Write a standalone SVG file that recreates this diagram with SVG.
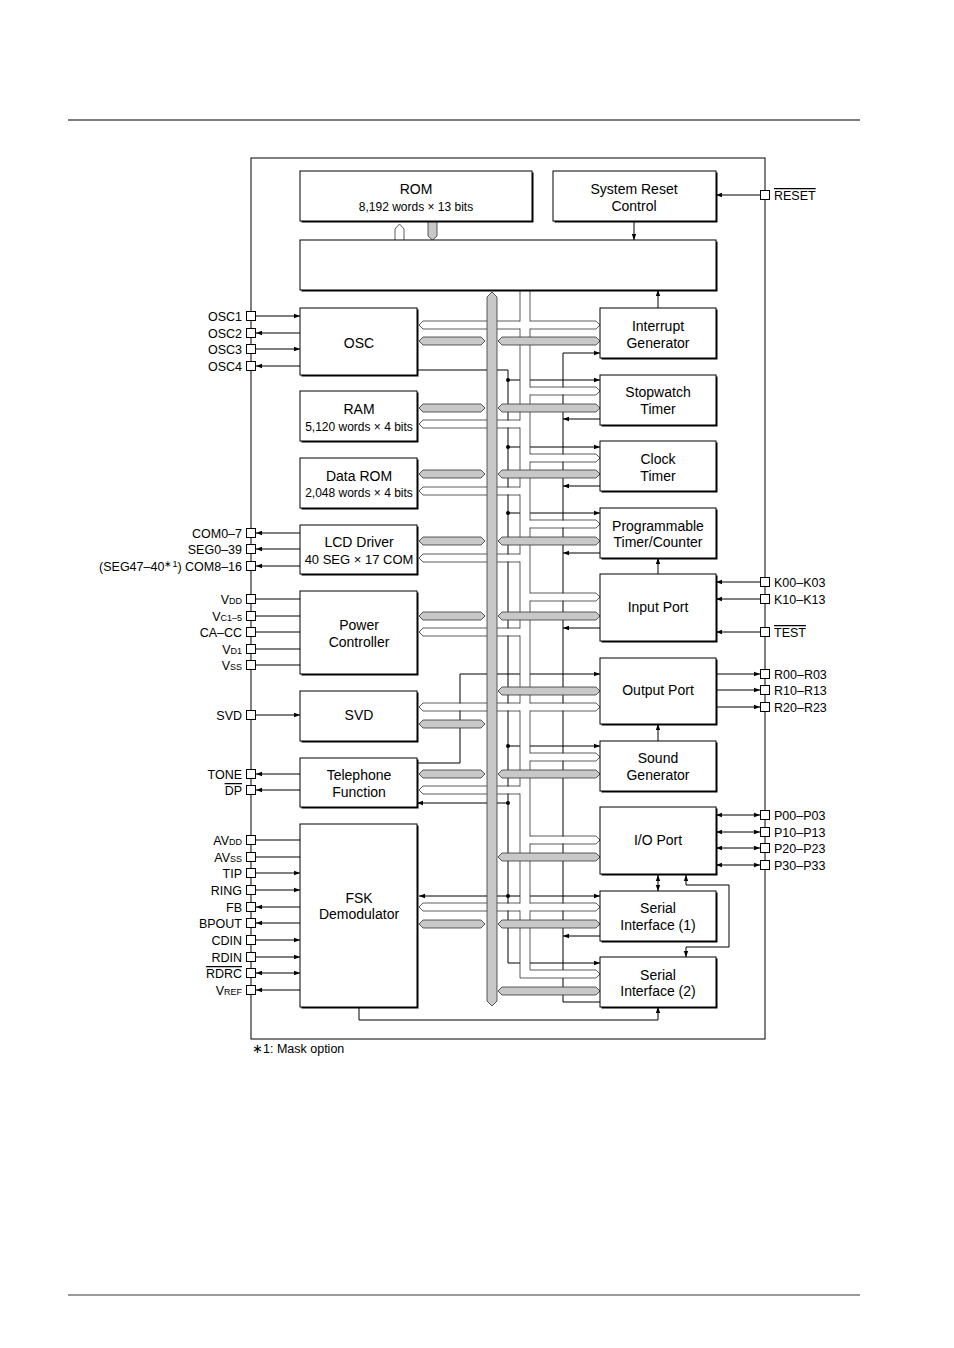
<svg xmlns="http://www.w3.org/2000/svg" width="954" height="1348" viewBox="0 0 954 1348">
<defs>
<style>
text{font-family:"Liberation Sans",Arial,sans-serif;fill:#000}
.b{font-size:14px;text-anchor:middle}
.s{font-size:12px;text-anchor:middle}
.pl{font-size:12.5px;text-anchor:end}
.pr{font-size:12.5px}
.ln{stroke:#000;stroke-width:1;fill:none}
.box{fill:#fff;stroke:#000;stroke-width:1}
.sh{fill:#000}
.pin{fill:#fff;stroke:#000;stroke-width:1}
.g{fill:#c8c8c8;stroke:#333;stroke-width:0.8}
.w{fill:none;stroke:#333;stroke-width:0.8}
.wf{fill:#fff}
.sub{font-size:9px}
</style>
<marker id="a" viewBox="0 0 6 6" refX="6" refY="3" markerWidth="6" markerHeight="6" markerUnits="userSpaceOnUse" orient="auto"><path d="M0,0.8 L6,3 L0,5.2z"/></marker>
<marker id="as" viewBox="0 0 6 6" refX="0" refY="3" markerWidth="6" markerHeight="6" markerUnits="userSpaceOnUse" orient="auto"><path d="M6,0.8 L0,3 L6,5.2z"/></marker>
</defs>
<rect width="954" height="1348" fill="#fff"/>
<line x1="68" y1="120" x2="860" y2="120" stroke="#000" stroke-width="1.2"/>
<line x1="68" y1="1295" x2="860" y2="1295" stroke="#000" stroke-width="0.8"/>
<rect x="251" y="158" width="514" height="881" class="ln"/>

<g id="connectors">
<!-- pin lines left -->
<path class="ln" marker-end="url(#a)" d="M256,316H300"/>
<path class="ln" marker-end="url(#a)" d="M300,333H256"/>
<path class="ln" marker-end="url(#a)" d="M256,349H300"/>
<path class="ln" marker-end="url(#a)" d="M300,366H256"/>
<path class="ln" marker-end="url(#a)" d="M300,533H256"/>
<path class="ln" marker-end="url(#a)" d="M300,549H256"/>
<path class="ln" marker-end="url(#a)" d="M300,566H256"/>
<path class="ln" d="M256,599H300M256,616H300M256,632H300M256,649H300M256,665H300"/>
<path class="ln" marker-end="url(#a)" d="M256,715H300"/>
<path class="ln" marker-end="url(#a)" d="M300,774H256"/>
<path class="ln" marker-end="url(#a)" d="M300,790H256"/>
<path class="ln" d="M256,840H300M256,857H300"/>
<path class="ln" marker-end="url(#a)" d="M256,873H300"/>
<path class="ln" marker-end="url(#a)" d="M256,890H300"/>
<path class="ln" marker-end="url(#a)" d="M300,907H256"/>
<path class="ln" marker-end="url(#a)" d="M300,923H256"/>
<path class="ln" marker-end="url(#a)" d="M256,940H300"/>
<path class="ln" marker-end="url(#a)" d="M256,957H300"/>
<path class="ln" marker-start="url(#as)" marker-end="url(#a)" d="M256,973H300"/>
<path class="ln" marker-end="url(#a)" d="M300,990H256"/>
<!-- pin lines right -->
<path class="ln" marker-end="url(#a)" d="M760,195H716"/>
<path class="ln" marker-end="url(#a)" d="M760,582H716"/>
<path class="ln" marker-end="url(#a)" d="M760,599H716"/>
<path class="ln" marker-end="url(#a)" d="M760,632H716"/>
<path class="ln" marker-end="url(#a)" d="M716,674H760"/>
<path class="ln" marker-end="url(#a)" d="M716,690H760"/>
<path class="ln" marker-end="url(#a)" d="M716,707H760"/>
<path class="ln" marker-start="url(#as)" marker-end="url(#a)" d="M716,815H760"/>
<path class="ln" marker-start="url(#as)" marker-end="url(#a)" d="M716,832H760"/>
<path class="ln" marker-start="url(#as)" marker-end="url(#a)" d="M716,848H760"/>
<path class="ln" marker-start="url(#as)" marker-end="url(#a)" d="M716,865H760"/>
<!-- inter-block -->
<path class="ln" marker-end="url(#a)" d="M634,221V240"/>
<path class="ln" marker-end="url(#a)" d="M658,308V290"/>
<path class="ln" marker-end="url(#a)" d="M658,574V558"/>
<path class="ln" marker-end="url(#a)" d="M658,741V724"/>
<path class="ln" marker-start="url(#as)" marker-end="url(#a)" d="M658,875V891"/>
<path class="ln" marker-start="url(#as)" marker-end="url(#a)" d="M686,875V885H729V947H686V957"/>
<path class="ln" marker-end="url(#a)" d="M359,1007V1020H658V1007"/>
<path class="ln" marker-end="url(#a)" d="M417,763H460V674H600"/>
<!-- clock line 508 -->
<path class="ln" d="M417,370H508V963"/>
<path class="ln" marker-end="url(#a)" d="M508,963H600"/>
<path class="ln" marker-end="url(#a)" d="M508,380H600"/>
<path class="ln" marker-end="url(#a)" d="M508,447H600"/>
<path class="ln" marker-end="url(#a)" d="M508,513H600"/>
<path class="ln" marker-end="url(#a)" d="M508,746H600"/>
<path class="ln" marker-end="url(#a)" d="M508,803H417"/>
<path class="ln" marker-start="url(#as)" marker-end="url(#a)" d="M419,896H600"/>
<g fill="#000"><circle cx="508" cy="380" r="2"/><circle cx="508" cy="447" r="2"/><circle cx="508" cy="513" r="2"/><circle cx="508" cy="746" r="2"/><circle cx="508" cy="803" r="2"/><circle cx="508" cy="896" r="2"/></g>
<!-- interrupt line 563 -->
<path class="ln" d="M563,1002V353M563,1002H600"/>
<path class="ln" marker-end="url(#a)" d="M563,353H600"/>
<path class="ln" marker-end="url(#a)" d="M600,419H563"/>
<path class="ln" marker-end="url(#a)" d="M600,486H563"/>
<path class="ln" marker-end="url(#a)" d="M600,553H563"/>
<path class="ln" marker-end="url(#a)" d="M600,628H563"/>
<path class="ln" marker-end="url(#a)" d="M600,936H563"/>
<!-- hollow bus -->
<path fill="#fff" d="M520,291H530V970H598V978H520Z"/>
<path class="w" d="M520,291V978H596L600,974L596,970H530V291"/>
<!-- right white arrows -->
<g>
<rect class="wf" x="529" y="321.5" width="68" height="7"/><path class="w" d="M530,321H596L600,325L596,329H530"/>
<rect class="wf" x="529" y="387.5" width="68" height="7"/><path class="w" d="M530,387H596L600,391L596,395H530"/>
<rect class="wf" x="529" y="454.5" width="68" height="7"/><path class="w" d="M530,454H596L600,458L596,462H530"/>
<rect class="wf" x="529" y="520.5" width="68" height="7"/><path class="w" d="M530,520H596L600,524L596,528H530"/>
<rect class="wf" x="529" y="593.5" width="68" height="7"/><path class="w" d="M530,593H596L600,597L596,601H530"/>
<rect class="wf" x="529" y="703.5" width="68" height="7"/><path class="w" d="M530,703H596L600,707L596,711H530"/>
<rect class="wf" x="529" y="753.5" width="68" height="7"/><path class="w" d="M530,753H596L600,757L596,761H530"/>
<rect class="wf" x="529" y="836.5" width="68" height="7"/><path class="w" d="M530,836H596L600,840L596,844H530"/>
<rect class="wf" x="529" y="903.5" width="68" height="7"/><path class="w" d="M530,903H596L600,907L596,911H530"/>
</g>
<!-- left white arrows -->
<g>
<rect class="wf" x="421" y="321.5" width="100" height="7"/><path class="w" d="M520,321H423L419,325L423,329H520"/>
<rect class="wf" x="421" y="420.5" width="100" height="7"/><path class="w" d="M520,420H423L419,424L423,428H520"/>
<rect class="wf" x="421" y="487.5" width="100" height="7"/><path class="w" d="M520,487H423L419,491L423,495H520"/>
<rect class="wf" x="421" y="554.5" width="100" height="7"/><path class="w" d="M520,554H423L419,558L423,562H520"/>
<rect class="wf" x="421" y="628.5" width="100" height="7"/><path class="w" d="M520,628H423L419,632L423,636H520"/>
<rect class="wf" x="421" y="703.5" width="100" height="7"/><path class="w" d="M520,703H423L419,707L423,711H520"/>
<rect class="wf" x="421" y="786.5" width="100" height="7"/><path class="w" d="M520,786H423L419,790L423,794H520"/>
<rect class="wf" x="421" y="903.5" width="100" height="7"/><path class="w" d="M520,903H423L419,907L423,911H520"/>
</g>
<!-- gray main bus -->
<path class="g" d="M487,297L492,292L497,297V1001L492,1006L487,1001Z"/>
<!-- gray arrows left -->
<g class="g">
<path d="M419,341L423,337H481L485,341L481,345H423Z"/>
<path d="M419,408L423,404H481L485,408L481,412H423Z"/>
<path d="M419,474L423,470H481L485,474L481,478H423Z"/>
<path d="M419,541L423,537H481L485,541L481,545H423Z"/>
<path d="M419,616L423,612H481L485,616L481,620H423Z"/>
<path d="M419,724L423,720H481L485,724L481,728H423Z"/>
<path d="M419,774L423,770H481L485,774L481,778H423Z"/>
<path d="M419,924L423,920H481L485,924L481,928H423Z"/>
</g>
<!-- gray arrows right -->
<g class="g">
<path d="M498,341L502,337H596L600,341L596,345H502Z"/>
<path d="M498,408L502,404H596L600,408L596,412H502Z"/>
<path d="M498,474L502,470H596L600,474L596,478H502Z"/>
<path d="M498,541L502,537H596L600,541L596,545H502Z"/>
<path d="M498,616L502,612H596L600,616L596,620H502Z"/>
<path d="M498,691L502,687H596L600,691L596,695H502Z"/>
<path d="M498,774L502,770H596L600,774L596,778H502Z"/>
<path d="M498,857L502,853H596L600,857L596,861H502Z"/>
<path d="M498,924L502,920H596L600,924L596,928H502Z"/>
<path d="M498,991L502,987H596L600,991L596,995H502Z"/>
</g>
<!-- ROM/core buses -->
<path fill="#fff" stroke="#333" stroke-width="0.8" d="M395,240V229L399.5,224L404,229V240"/>
<path class="g" d="M428,221V236L432.5,240L437,236V221"/>
</g>

<!-- blocks -->
<g id="rom"><rect class="sh" x="301.5" y="172.5" width="232" height="50"/><rect class="box" x="300" y="171" width="232" height="50"/><text class="b" x="416" y="194">ROM</text><text class="s" x="416" y="211">8,192 words × 13 bits</text></g>
<g id="reset"><rect class="sh" x="554.5" y="172.5" width="163" height="50"/><rect class="box" x="553" y="171" width="163" height="50"/><text class="b" x="634" y="194">System Reset</text><text class="b" x="634" y="211">Control</text></g>
<g id="core"><rect class="sh" x="301.5" y="241.5" width="416" height="50"/><rect class="box" x="300" y="240" width="416" height="50"/></g>
<g id="osc"><rect class="sh" x="301.5" y="309.5" width="117" height="67"/><rect class="box" x="300" y="308" width="117" height="67"/><text class="b" x="359" y="348">OSC</text></g>
<g id="ram"><rect class="sh" x="301.5" y="392.5" width="117" height="50"/><rect class="box" x="300" y="391" width="117" height="50"/><text class="b" x="359" y="414">RAM</text><text class="s" x="359" y="431">5,120 words × 4 bits</text></g>
<g id="dataro"><rect class="sh" x="301.5" y="459.5" width="117" height="50"/><rect class="box" x="300" y="458" width="117" height="50"/><text class="b" x="359" y="481">Data ROM</text><text class="s" x="359" y="497">2,048 words × 4 bits</text></g>
<g id="lcd"><rect class="sh" x="301.5" y="526.5" width="117" height="49"/><rect class="box" x="300" y="525" width="117" height="49"/><text class="b" x="359" y="547">LCD Driver</text><text class="s" x="359" y="564" style="font-size:13px">40 SEG × 17 COM</text></g>
<g id="power"><rect class="sh" x="301.5" y="592.5" width="117" height="83"/><rect class="box" x="300" y="591" width="117" height="83"/><text class="b" x="359" y="630">Power</text><text class="b" x="359" y="647">Controller</text></g>
<g id="svd"><rect class="sh" x="301.5" y="692.5" width="117" height="50"/><rect class="box" x="300" y="691" width="117" height="50"/><text class="b" x="359" y="720">SVD</text></g>
<g id="tel"><rect class="sh" x="301.5" y="759.5" width="117" height="49"/><rect class="box" x="300" y="758" width="117" height="49"/><text class="b" x="359" y="780">Telephone</text><text class="b" x="359" y="797">Function</text></g>
<g id="fsk"><rect class="sh" x="301.5" y="825.5" width="117" height="183"/><rect class="box" x="300" y="824" width="117" height="183"/><text class="b" x="359" y="903">FSK</text><text class="b" x="359" y="919">Demodulator</text></g>
<g id="intr"><rect class="sh" x="601.5" y="309.5" width="116" height="50"/><rect class="box" x="600" y="308" width="116" height="50"/><text class="b" x="658" y="331">Interrupt</text><text class="b" x="658" y="348">Generator</text></g>
<g id="sw"><rect class="sh" x="601.5" y="376.5" width="116" height="50"/><rect class="box" x="600" y="375" width="116" height="50"/><text class="b" x="658" y="397">Stopwatch</text><text class="b" x="658" y="414">Timer</text></g>
<g id="clk"><rect class="sh" x="601.5" y="442.5" width="116" height="50"/><rect class="box" x="600" y="441" width="116" height="50"/><text class="b" x="658" y="464">Clock</text><text class="b" x="658" y="481">Timer</text></g>
<g id="ptc"><rect class="sh" x="601.5" y="509.5" width="116" height="50"/><rect class="box" x="600" y="508" width="116" height="50"/><text class="b" x="658" y="531">Programmable</text><text class="b" x="658" y="547">Timer/Counter</text></g>
<g id="inp"><rect class="sh" x="601.5" y="575.5" width="116" height="67"/><rect class="box" x="600" y="574" width="116" height="67"/><text class="b" x="658" y="612">Input Port</text></g>
<g id="outp"><rect class="sh" x="601.5" y="659.5" width="116" height="66"/><rect class="box" x="600" y="658" width="116" height="66"/><text class="b" x="658" y="695">Output Port</text></g>
<g id="snd"><rect class="sh" x="601.5" y="742.5" width="116" height="50"/><rect class="box" x="600" y="741" width="116" height="50"/><text class="b" x="658" y="763">Sound</text><text class="b" x="658" y="780">Generator</text></g>
<g id="io"><rect class="sh" x="601.5" y="808.5" width="116" height="67"/><rect class="box" x="600" y="807" width="116" height="67"/><text class="b" x="658" y="845">I/O Port</text></g>
<g id="si1"><rect class="sh" x="601.5" y="892.5" width="116" height="50"/><rect class="box" x="600" y="891" width="116" height="50"/><text class="b" x="658" y="913">Serial</text><text class="b" x="658" y="930">Interface (1)</text></g>
<g id="si2"><rect class="sh" x="601.5" y="958.5" width="116" height="50"/><rect class="box" x="600" y="957" width="116" height="50"/><text class="b" x="658" y="980">Serial</text><text class="b" x="658" y="996">Interface (2)</text></g>

<!-- pins -->
<g id="pins">
<g class="pin">
<rect x="246.5" y="311.5" width="9" height="9"/><rect x="246.5" y="328.5" width="9" height="9"/><rect x="246.5" y="344.5" width="9" height="9"/><rect x="246.5" y="361.5" width="9" height="9"/>
<rect x="246.5" y="528.5" width="9" height="9"/><rect x="246.5" y="544.5" width="9" height="9"/><rect x="246.5" y="561.5" width="9" height="9"/>
<rect x="246.5" y="594.5" width="9" height="9"/><rect x="246.5" y="611.5" width="9" height="9"/><rect x="246.5" y="627.5" width="9" height="9"/><rect x="246.5" y="644.5" width="9" height="9"/><rect x="246.5" y="660.5" width="9" height="9"/>
<rect x="246.5" y="710.5" width="9" height="9"/><rect x="246.5" y="769.5" width="9" height="9"/><rect x="246.5" y="785.5" width="9" height="9"/>
<rect x="246.5" y="835.5" width="9" height="9"/><rect x="246.5" y="852.5" width="9" height="9"/><rect x="246.5" y="868.5" width="9" height="9"/><rect x="246.5" y="885.5" width="9" height="9"/><rect x="246.5" y="902.5" width="9" height="9"/><rect x="246.5" y="918.5" width="9" height="9"/><rect x="246.5" y="935.5" width="9" height="9"/><rect x="246.5" y="952.5" width="9" height="9"/><rect x="246.5" y="968.5" width="9" height="9"/><rect x="246.5" y="985.5" width="9" height="9"/>
<rect x="760.5" y="190.5" width="9" height="9"/>
<rect x="760.5" y="577.5" width="9" height="9"/><rect x="760.5" y="594.5" width="9" height="9"/><rect x="760.5" y="627.5" width="9" height="9"/>
<rect x="760.5" y="669.5" width="9" height="9"/><rect x="760.5" y="685.5" width="9" height="9"/><rect x="760.5" y="702.5" width="9" height="9"/>
<rect x="760.5" y="810.5" width="9" height="9"/><rect x="760.5" y="827.5" width="9" height="9"/><rect x="760.5" y="843.5" width="9" height="9"/><rect x="760.5" y="860.5" width="9" height="9"/>
</g>
<text class="pl" x="242" y="321">OSC1</text>
<text class="pl" x="242" y="338">OSC2</text>
<text class="pl" x="242" y="354">OSC3</text>
<text class="pl" x="242" y="371">OSC4</text>
<text class="pl" x="242" y="538">COM0–7</text>
<text class="pl" x="242" y="554">SEG0–39</text>
<text class="pl" x="242" y="571">(SEG47–40<tspan class="sub" dy="-4">∗1</tspan><tspan dy="4">) COM8–16</tspan></text>
<text class="pl" x="242" y="604">V<tspan class="sub">DD</tspan></text>
<text class="pl" x="242" y="621">V<tspan class="sub">C1–5</tspan></text>
<text class="pl" x="242" y="637">CA–CC</text>
<text class="pl" x="242" y="654">V<tspan class="sub">D1</tspan></text>
<text class="pl" x="242" y="670">V<tspan class="sub">SS</tspan></text>
<text class="pl" x="242" y="720">SVD</text>
<text class="pl" x="242" y="779">TONE</text>
<text class="pl" x="242" y="795" text-decoration="overline">DP</text>
<text class="pl" x="242" y="845">AV<tspan class="sub">DD</tspan></text>
<text class="pl" x="242" y="862">AV<tspan class="sub">SS</tspan></text>
<text class="pl" x="242" y="878">TIP</text>
<text class="pl" x="242" y="895">RING</text>
<text class="pl" x="242" y="912">FB</text>
<text class="pl" x="242" y="928">BPOUT</text>
<text class="pl" x="242" y="945">CDIN</text>
<text class="pl" x="242" y="962">RDIN</text>
<text class="pl" x="242" y="978" text-decoration="overline">RDRC</text>
<text class="pl" x="242" y="995">V<tspan class="sub">REF</tspan></text>
<text class="pr" x="774" y="200" text-decoration="overline">RESET</text>
<text class="pr" x="774" y="587">K00–K03</text>
<text class="pr" x="774" y="604">K10–K13</text>
<text class="pr" x="774" y="637" text-decoration="overline">TEST</text>
<text class="pr" x="774" y="679">R00–R03</text>
<text class="pr" x="774" y="695">R10–R13</text>
<text class="pr" x="774" y="712">R20–R23</text>
<text class="pr" x="774" y="820">P00–P03</text>
<text class="pr" x="774" y="837">P10–P13</text>
<text class="pr" x="774" y="853">P20–P23</text>
<text class="pr" x="774" y="870">P30–P33</text>
</g>
<text x="252" y="1053" style="font-size:12.5px">∗1: Mask option</text>
</svg>
